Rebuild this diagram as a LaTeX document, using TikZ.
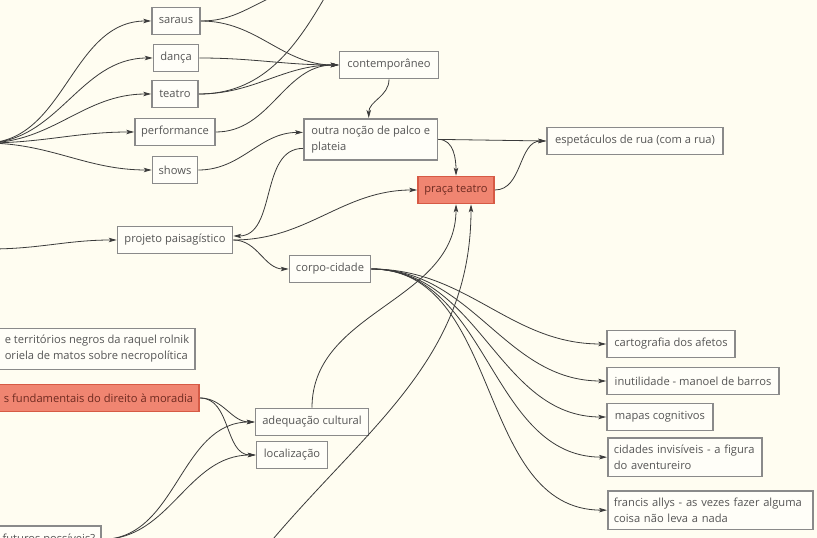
\documentclass[tikz,border=0pt]{standalone}
\usepackage{fontspec}
\setmainfont{Open Sans}
\usetikzlibrary{arrows.meta}
\definecolor{bg}{HTML}{FFFDF1}
\definecolor{boxfill}{HTML}{FFFEF8}
\definecolor{boxline}{HTML}{8A8A8A}
\definecolor{txt}{HTML}{555555}
\definecolor{hotfill}{HTML}{F08571}
\definecolor{hotline}{HTML}{D65A45}
\definecolor{hottxt}{HTML}{6E2A20}
\definecolor{edgec}{HTML}{3A3A3A}
\tikzset{
  box/.style={draw=boxline, line width=1.7bp, fill=boxfill, text=txt,
    font=\fontsize{11.2}{16}\selectfont, inner xsep=6bp, inner ysep=6bp,
    minimum height=27bp},
  twoline/.style={box, align=left, inner ysep=7bp},
  hot/.style={box, fill=hotfill, draw=hotline, text=hottxt},
  link/.style={draw=edgec, line width=0.8bp, -{Stealth[length=8bp,width=4.5bp,inset=2bp]}},
  plain/.style={draw=edgec, line width=0.8bp}
}
\begin{document}
\begin{tikzpicture}[x=1bp,y=-1bp]
\useasboundingbox (0,0) rectangle (817,538);
\fill[bg] (0,0) rectangle (817,538);
\clip (0,0) rectangle (817,538);

% nodes
\node[box, minimum width=48bp] (saraus) at (176,21) {saraus};
\node[box, minimum width=45bp] (danca) at (176,58) {dança};
\node[box, minimum width=46bp] (teatro) at (175,94) {teatro};
\node[box, minimum width=80bp] (performance) at (175,132) {performance};
\node[box, minimum width=45bp] (shows) at (175,170) {shows};
\node[box, minimum width=99bp] (contemp) at (389,65) {contemporâneo};
\node[twoline, anchor=north west, inner xsep=7.5bp] (outra) at (303,118) {outra noção de palco e\\plateia};
\node[hot, minimum width=76bp] (praca) at (456,190) {praça teatro};
\node[box, minimum width=176bp] (espet) at (635,141) {espetáculos de rua (com a rua)};
\node[box, minimum width=115bp] (projeto) at (175,240) {projeto paisagístico};
\node[box, minimum width=81bp] (corpo) at (330,269) {corpo-cidade};
\node[twoline, anchor=east] (terr) at (196,349) {e territórios negros da raquel rolnik\\oriela de matos sobre necropolítica};
\node[hot, anchor=east] (moradia) at (200,398) {s fundamentais do direito à moradia};
\node[box, minimum width=113bp] (adeq) at (312,422) {adequação cultural};
\node[box, minimum width=71bp] (local) at (292,455) {localização};
\node[box, anchor=north east] (futuros) at (102,525) {futuros possíveis?};
\node[box, minimum width=128bp] (cart) at (671,344) {cartografia dos afetos};
\node[box, minimum width=172bp] (inut) at (693,381) {inutilidade - manoel de barros};
\node[box, minimum width=106bp] (mapas) at (660,417) {mapas cognitivos};
\node[twoline, anchor=north west, text width=142bp] (cidades) at (607,437) {cidades invisíveis - a figura\\do aventureiro};
\node[twoline, anchor=north west, text width=193bp] (francis) at (607,490) {francis allys - as vezes fazer alguma\\coisa não leva a nada};

% free ends
\coordinate (srcA) at (-15,143);
\coordinate (srcB) at (-10,249);
\coordinate (topA) at (272,-3);
\coordinate (topB) at (325,-3);
\coordinate (botA) at (268,545);

% connectors
\foreach \t in {saraus,danca,teatro,performance,shows}
  \draw[link] (srcA) to[out=0,in=180] (\t.west);
\foreach \s in {saraus,danca,teatro,performance}
  \draw[link] (\s.east) to[out=0,in=180] (contemp.west);
\draw[plain] (saraus.east) to[out=0,in=205] (topA);
\draw[plain] (teatro.east) to[out=0,in=240] (topB);
\draw[link] (contemp.south) to[out=-90,in=90] ([xshift=-2bp]outra.north);
\draw[link] (shows.east) to[out=0,in=180] ([yshift=7bp]outra.west);
\draw[link] (outra.east) -- (espet.west);
\draw[link] (outra.east) to[out=0,in=90] (praca.north);
\draw[link] (praca.east) to[out=0,in=180] (espet.west);
\draw[link] ([yshift=-9bp]outra.west) to[out=180,in=0] ([yshift=4bp]projeto.east);
\draw[link] (srcB) to[out=0,in=180] (projeto.west);
\draw[link] (projeto.east) to[out=0,in=180] (praca.west);
\draw[link] (projeto.east) to[out=0,in=180] (corpo.west);
\foreach \t in {cart,inut,mapas,cidades,francis}
  \draw[link] (corpo.east) to[out=0,in=180] (\t.west);
\draw[link] (moradia.east) to[out=0,in=180] (adeq.west);
\draw[link] (moradia.east) to[out=0,in=180] (local.west);
\draw[link] (futuros.east) to[out=0,in=180] (adeq.west);
\draw[link] (futuros.east) to[out=0,in=180] (local.west);
\draw[link] (adeq.north) to[out=90,in=-90] (praca.south);
\draw[link] (botA) to[out=50,in=-90] ([xshift=15bp]praca.south);
\end{tikzpicture}
\end{document}
